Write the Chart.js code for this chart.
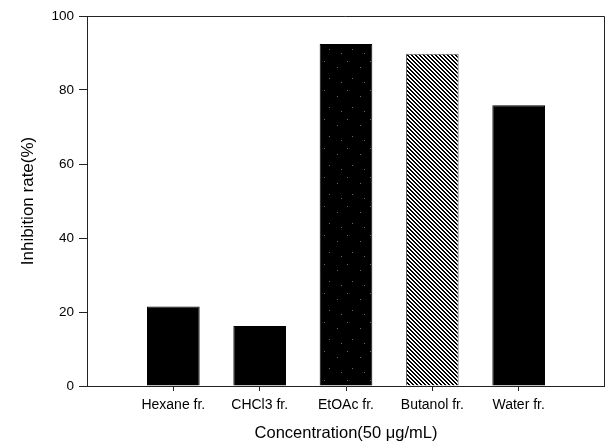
<!DOCTYPE html>
<html>
<head>
<meta charset="utf-8">
<script src="https://cdn.jsdelivr.net/npm/chart.js@4/dist/chart.umd.min.js"></script>
<style>
  html, body { margin: 0; padding: 0; background: #fff; }
  #wrap { width: 605px; height: 446px; }
</style>
</head>
<body>
<div id="wrap"><canvas id="chart"></canvas></div>
<script>
'use strict';

// data
var fractions = ['Hexane fr.', 'CHCl3 fr.', 'EtOAc fr.', 'Butanol fr.', 'Water fr.']
var inhibition = [21.5, 16.2, 92.4, 89.8, 75.9]
var yTicks = [0, 20, 40, 60, 80, 100]

// empty slots at both ends so the bars sit at 1..5 of 6
var labels = [''].concat(fractions, [''])
var values = [null].concat(inhibition, [null])

function dotPattern(){
    let c = document.createElement('canvas')
    c.width = 23; c.height = 29
    let g = c.getContext('2d')
    g.fillStyle = '#000'
    g.fillRect(0, 0, 23, 29)
    g.fillStyle = '#666'
    let pts = [[2, 3], [15, 9], [7, 20], [19, 24]]
    for(let i = 0; i < pts.length; i++){
        g.fillRect(pts[i][0], pts[i][1], 1, 1)
    }
    return g.createPattern(c, 'repeat')
}

function hatchPattern(){
    let c = document.createElement('canvas')
    c.width = 8; c.height = 8
    let g = c.getContext('2d')
    g.fillStyle = '#fff'
    g.fillRect(0, 0, 8, 8)
    g.fillStyle = '#000'
    for(let y = 0; y < 8; y++){
        for(let x = 0; x < 8; x++){
            let d = ((x - y) % 4 + 4) % 4
            if(d == 0 || d == 1) g.fillRect(x, y, 1, 1)
        }
    }
    return g.createPattern(c, 'repeat')
}

var fills = [null, '#000', '#000', dotPattern(), hatchPattern(), '#000', null]
var borders = [null, '#000', '#000', '#000', '#666', '#000', null]

var frame = {
    id: 'frame',
    afterDraw(chart){
        let a = chart.chartArea
        let g = chart.ctx
        g.save()
        g.strokeStyle = '#222'
        g.lineWidth = 1
        g.beginPath()
        g.moveTo(a.left, a.top + 0.5)
        g.lineTo(a.right - 0.5, a.top + 0.5)
        g.lineTo(a.right - 0.5, a.bottom)
        g.stroke()
        g.restore()
    }
}

var tickColor = (ctx) => (ctx.index == 0 || ctx.index == labels.length - 1) ? 'rgba(0,0,0,0)' : '#222'

new Chart(document.getElementById('chart'), {
    type: 'bar',
    data: {
        labels: labels,
        datasets: [{
            data: values,
            backgroundColor: fills,
            borderColor: borders,
            borderWidth: 1,
            categoryPercentage: 1,
            barPercentage: 0.61
        }]
    },
    options: {
        responsive: true,
        maintainAspectRatio: false,
        animation: false,
        layout: { padding: { top: 16, right: 0, left: 0, bottom: 0 } },
        plugins: { legend: { display: false }, tooltip: { enabled: false } },
        scales: {
            x: {
                offset: false,
                grid: { offset: false, drawOnChartArea: false, drawTicks: true, tickLength: 5, color: tickColor },
                border: { display: true, color: '#222' },
                ticks: { color: '#000', font: { family: 'Liberation Sans', size: 14 }, padding: 6, maxRotation: 0, autoSkip: false },
                title: { display: true, text: 'Concentration(50 \u03bcg/mL)', color: '#000', font: { family: 'Liberation Sans', size: 16.5 }, padding: { top: 6, bottom: 3 } },
                afterFit(scale){
                    scale.height = 60
                    scale.paddingLeft = 0
                    scale.paddingRight = 0
                }
            },
            y: {
                min: 0,
                max: 100,
                afterBuildTicks(scale){ scale.ticks = yTicks.map(v => ({ value: v })) },
                grid: { drawOnChartArea: false, drawTicks: true, tickLength: 8, color: '#222' },
                border: { display: true, color: '#222' },
                ticks: { color: '#000', font: { family: 'Liberation Sans', size: 13.5 }, padding: 5 },
                title: { display: true, text: 'Inhibition rate(%)', color: '#000', font: { family: 'Liberation Sans', size: 17 }, padding: { top: 18, bottom: 0 } },
                afterFit(scale){ scale.width = 87 }
            }
        }
    },
    plugins: [frame]
})
</script>
</body>
</html>
